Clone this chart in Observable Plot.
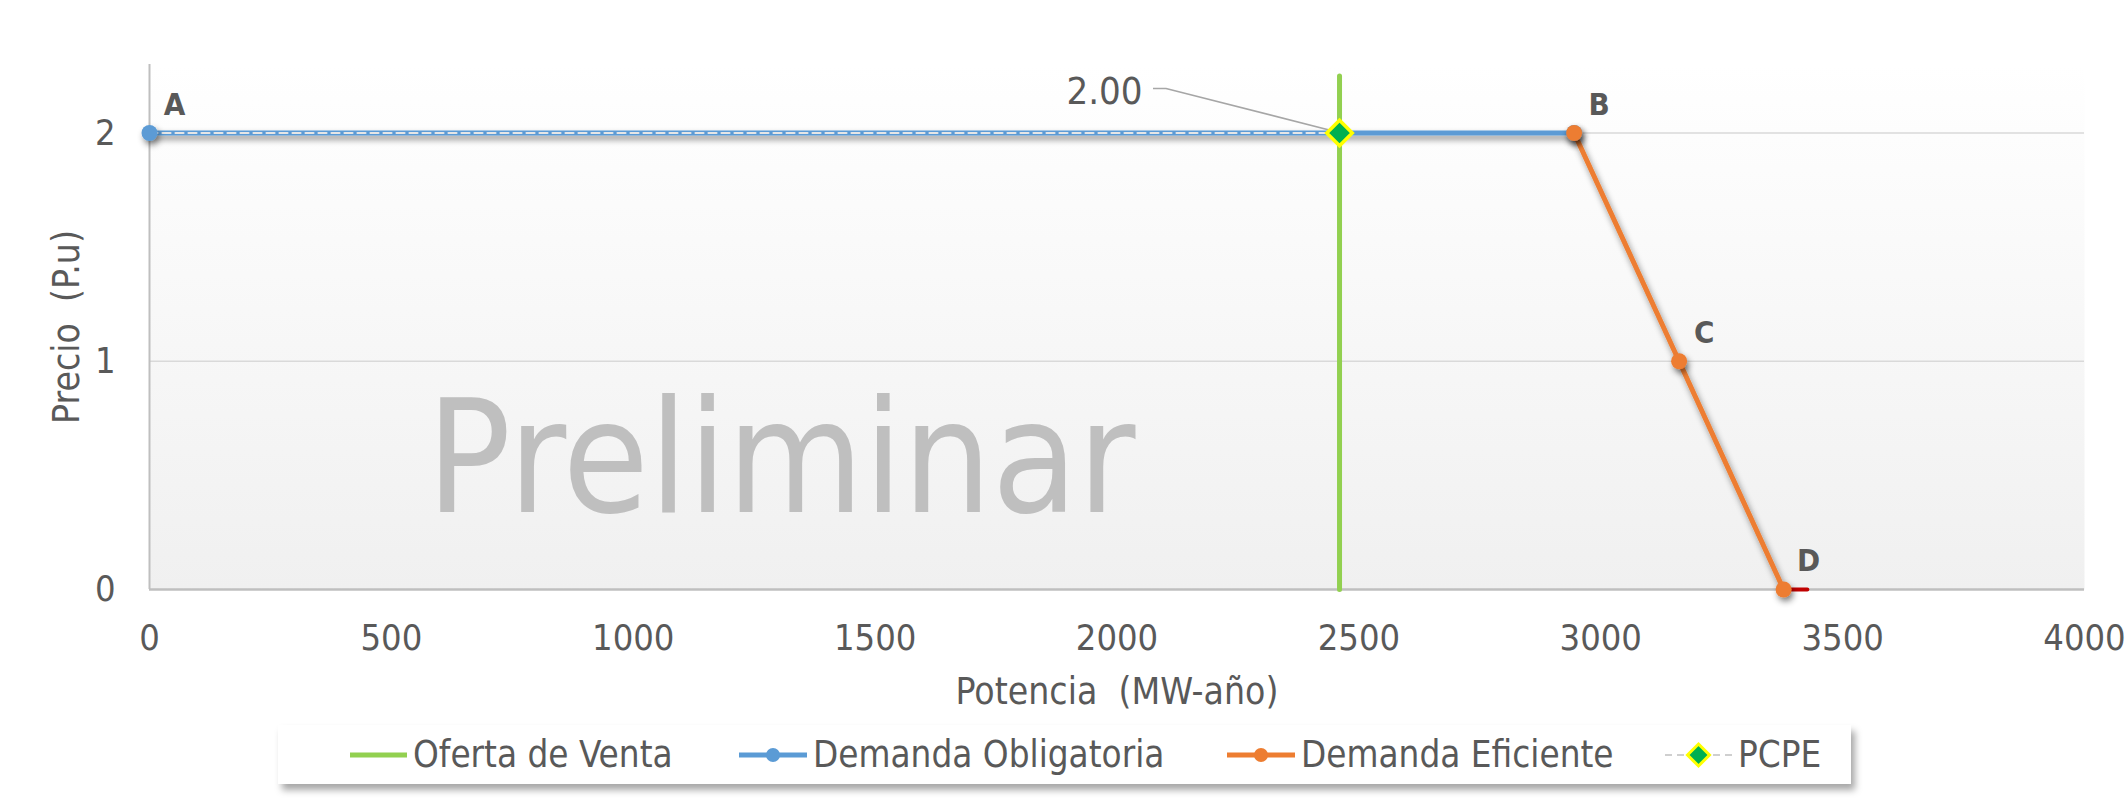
<!DOCTYPE html>
<html>
<head>
<meta charset="utf-8">
<script src="https://cdn.jsdelivr.net/npm/d3@7"></script>
<script src="https://cdn.jsdelivr.net/npm/@observablehq/plot@0.6"></script>
<style>
  body { margin: 0; background: #ffffff; font-family: "DejaVu Sans Condensed", "DejaVu Sans", sans-serif; }
  #wrap { position: relative; width: 2126px; height: 802px; overflow: hidden; }
  #legend {
    position: absolute; left: 278px; top: 725px; width: 1573px; height: 59px;
    background: #ffffff; box-shadow: 4px 6px 7px rgba(0,0,0,0.35);
    box-sizing: border-box;
    font-size: 36.5px; color: #595959;
  }
  .item { position: absolute; top: 0; height: 59px; display: flex; align-items: center; gap: 6px; white-space: nowrap; }
  .item svg { display: block; }
</style>
</head>
<body>
<div id="wrap">
  <div id="chart"></div>
  <div id="legend"></div>
</div>
<script>
// ---- data ----
const xTicks = [0, 500, 1000, 1500, 2000, 2500, 3000, 3500, 4000];
const yTicks = [0, 1, 2];

const seriesNames = ["Oferta de Venta", "Demanda Obligatoria", "Demanda Eficiente", "PCPE"];

const ofertaX = [2460, 2460];
const ofertaY = [0, 2.25];

const obligatoriaX = [0, 2945];
const obligatoriaY = [2, 2];

const eficienteX = [2945, 3162, 3378];
const eficienteY = [2, 1, 0];

const pcpeX = [0, 2460];
const pcpeY = [2, 2];

const extraX = [3378, 3427];
const extraY = [0, 0];

const pointLabels = ["A", "B", "C", "D"];
const pointLabelX = [0, 2945, 3162, 3378];
const pointLabelY = [2, 2, 1, 0];

const watermark = "Preliminar";
const xTitle = "Potencia\u00a0 (MW-año)";
const yTitle = "Precio\u00a0 (P.u)";

// ---- helpers ----
const pts = (xs, ys) => xs.map((x, i) => ({x, y: ys[i]}));

const COLORS = {
  oferta: "#92d050",
  oblig: "#5b9bd5",
  efic: "#ed7d31",
  pcpeLine: "#e6e6e6",
  pcpeFill: "#00b050",
  pcpeStroke: "#ffff00",
  extra: "#c00000",
  text: "#595959"
};

const defs = () => {
  const g = d3.create("svg:defs");
  const lg = g.append("linearGradient").attr("id", "bgGrad")
    .attr("x1", 0).attr("y1", 0).attr("x2", 0).attr("y2", 1);
  lg.append("stop").attr("offset", "0%").attr("stop-color", "#ffffff");
  lg.append("stop").attr("offset", "100%").attr("stop-color", "#f0f0f0");
  const f = g.append("filter").attr("id", "shadow")
    .attr("filterUnits", "userSpaceOnUse")
    .attr("x", -100).attr("y", -100).attr("width", 2400).attr("height", 1100);
  f.append("feDropShadow").attr("dx", 2).attr("dy", 4).attr("stdDeviation", 3)
    .attr("flood-color", "#000").attr("flood-opacity", 0.45);
  return g.node();
};

const chart = Plot.plot({
  width: 2126,
  height: 716,
  marginLeft: 149,
  marginRight: 42,
  marginTop: 64,
  marginBottom: 127,
  style: {
    fontFamily: "DejaVu Sans Condensed, DejaVu Sans, sans-serif",
    fontSize: "36px",
    color: COLORS.text,
    background: "transparent",
    overflow: "visible"
  },
  x: {domain: [0, 4000], ticks: xTicks, tickSize: 0, tickPadding: 35, label: null, tickFormat: d => String(d)},
  y: {domain: [0, 2.3], ticks: yTicks, tickSize: 0, tickPadding: 34, label: null, tickFormat: d => String(d)},
  marks: [
    defs,
    Plot.frame({fill: "url(#bgGrad)", stroke: "none"}),
    Plot.ruleY(yTicks.filter(d => d > 0), {stroke: "#d9d9d9", strokeWidth: 1.5}),
    Plot.ruleY([0], {stroke: "#bfbfbf", strokeWidth: 2.5}),
    Plot.ruleX([0], {y1: 0, y2: 2.3, stroke: "#bfbfbf", strokeWidth: 2}),
    Plot.text([watermark], {
      text: d => d, frameAnchor: "bottom-left", textAnchor: "start", lineAnchor: "bottom",
      dx: 277, dy: -78, fontSize: 156, fill: "#bfbfbf"
    }),
    Plot.line(pts(ofertaX, ofertaY), {x: "x", y: "y", stroke: COLORS.oferta, strokeWidth: 5}),
    Plot.line(pts(obligatoriaX, obligatoriaY), {x: "x", y: "y", stroke: COLORS.oblig, strokeWidth: 5}),
    Plot.line(pts(eficienteX, eficienteY), {x: "x", y: "y", stroke: COLORS.efic, strokeWidth: 5}),
    Plot.line(pts(pcpeX, pcpeY), {x: "x", y: "y", stroke: COLORS.pcpeLine, strokeWidth: 2.2, strokeDasharray: "8,5"}),
    Plot.line(pts(extraX, extraY), {x: "x", y: "y", stroke: COLORS.extra, strokeWidth: 4}),
    Plot.dot(pts(obligatoriaX, obligatoriaY), {x: "x", y: "y", r: 8, fill: COLORS.oblig}),
    Plot.dot(pts(eficienteX, eficienteY), {x: "x", y: "y", r: 8, fill: COLORS.efic}),
    Plot.dot([{x: pcpeX[1], y: pcpeY[1]}], {x: "x", y: "y", symbol: "diamond2", r: 11.5,
      fill: COLORS.pcpeFill, stroke: COLORS.pcpeStroke, strokeWidth: 3.5}),
    Plot.text(pts(pointLabelX, pointLabelY).map((d, i) => ({...d, t: pointLabels[i]})), {
      x: "x", y: "y", text: "t", dx: 25, dy: -28, fontSize: 31, fontWeight: "bold",
      fill: COLORS.text, lineAnchor: "middle"
    }),
    Plot.text([{x: pcpeX[1], y: pcpeY[1]}], {
      x: "x", y: "y", text: d => d.y.toFixed(2), dx: -235, dy: -41, fontSize: 38,
      fill: COLORS.text, lineAnchor: "middle"
    }),
    Plot.text([xTitle], {text: d => d, frameAnchor: "bottom", dy: 103, lineAnchor: "middle",
      fontSize: 37, fill: COLORS.text}),
    Plot.text([yTitle], {text: d => d, frameAnchor: "left", textAnchor: "middle", lineAnchor: "middle",
      rotate: -90, dx: -82, fontSize: 37, fill: COLORS.text})
  ]
});

document.getElementById("chart").appendChild(chart);

// shadows on the demand series
const svg = d3.select(chart);
const lineGroups = svg.selectAll('g[aria-label="line"]').nodes();
[1, 2].forEach(i => lineGroups[i] && d3.select(lineGroups[i]).attr("filter", "url(#shadow)"));
const dotGroups = svg.selectAll('g[aria-label="dot"]').nodes();
[0, 1].forEach(i => dotGroups[i] && d3.select(dotGroups[i]).attr("filter", "url(#shadow)"));

// leader line for the PCPE data label
const sx = chart.scale("x"), sy = chart.scale("y");
const px = sx.apply(pcpeX[1]), py = sy.apply(pcpeY[1]);
svg.insert("path", () => dotGroups[2])
  .attr("d", `M${px - 186},${py - 44}L${px - 173},${py - 44}L${px - 4},${py - 1}`)
  .attr("fill", "none").attr("stroke", "#a6a6a6").attr("stroke-width", 1.6);

// ---- legend ----
const legend = d3.select("#legend");
const itemLeft = [72, 461, 949, 1387];
const swatches = [
  s => { s.attr("width", 57); s.append("line").attr("x1", 0).attr("x2", 57).attr("y1", 10).attr("y2", 10)
           .attr("stroke", COLORS.oferta).attr("stroke-width", 5); },
  s => { s.attr("width", 68); s.append("line").attr("x1", 0).attr("x2", 68).attr("y1", 10).attr("y2", 10)
           .attr("stroke", COLORS.oblig).attr("stroke-width", 5);
         s.append("circle").attr("cx", 34).attr("cy", 10).attr("r", 7).attr("fill", COLORS.oblig); },
  s => { s.attr("width", 68); s.append("line").attr("x1", 0).attr("x2", 68).attr("y1", 10).attr("y2", 10)
           .attr("stroke", COLORS.efic).attr("stroke-width", 5);
         s.append("circle").attr("cx", 34).attr("cy", 10).attr("r", 7).attr("fill", COLORS.efic); },
  s => { s.attr("width", 67); s.append("line").attr("x1", 0).attr("x2", 67).attr("y1", 10).attr("y2", 10)
           .attr("stroke", "#cfcfcf").attr("stroke-width", 2).attr("stroke-dasharray", "7,5");
         s.append("path").attr("d", "M33.5,-1L44.5,10L33.5,21L22.5,10Z").attr("fill", COLORS.pcpeFill)
           .attr("stroke", COLORS.pcpeStroke).attr("stroke-width", 3); }
];
seriesNames.forEach((name, i) => {
  const item = legend.append("div").attr("class", "item").style("left", itemLeft[i] + "px");
  const s = item.append("svg").attr("height", 20).attr("overflow", "visible");
  swatches[i](s);
  item.append("span").text(name);
});
</script>
</body>
</html>
